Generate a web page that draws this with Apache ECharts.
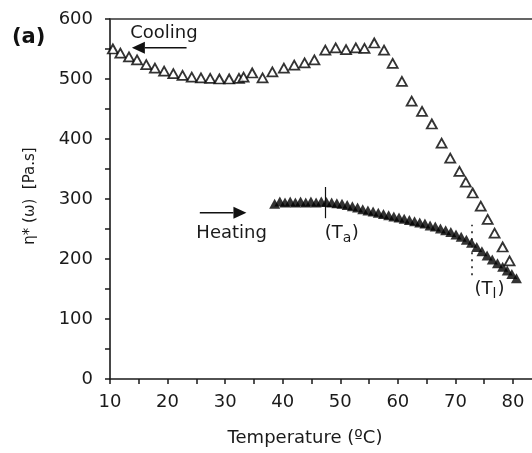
<!DOCTYPE html>
<html>
<head>
<meta charset="utf-8">
<script src="https://cdn.jsdelivr.net/npm/echarts@6/dist/echarts.min.js"></script>
<style>
  html, body { margin: 0; padding: 0; background: #fff; }
  #chart { width: 532px; height: 453px; }
</style>
</head>
<body>
<div id="chart"></div>
<script>
// Complex viscosity vs temperature, cooling and heating runs
const xTickLabels = [10, 20, 30, 40, 50, 60, 70, 80];
const yTickLabels = [0, 100, 200, 300, 400, 500, 600];

const coolingTemp = [10.5, 11.8, 13.3, 14.7, 16.3, 17.8, 19.4, 21.0, 22.6, 24.2, 25.8, 27.4, 29.0, 30.7,
  32.4, 33.2, 34.7, 36.5, 38.2, 40.2, 42.0, 43.8, 45.5, 47.4, 49.2, 51.0, 52.7, 54.2, 55.9, 57.6,
  59.1, 60.7, 62.4, 64.2, 65.9, 67.6, 69.1, 70.7, 71.8, 73.0, 74.4, 75.6, 76.8, 78.2, 79.4];
const coolingEta = [550, 543, 537, 532, 524, 518, 513, 509, 506, 503, 502, 501, 500, 500,
  501, 503, 510, 502, 512, 518, 523, 527, 532, 548, 552, 549, 552, 551, 560, 548,
  526, 496, 463, 446, 425, 393, 368, 346, 328, 310, 288, 266, 243, 220, 197];

const heatingTemp = [38.6, 39.5, 40.4, 41.3, 42.2, 43.1, 44.0, 44.9, 45.8, 46.7, 47.6, 48.5, 49.4,
  50.3, 51.2, 52.1, 53.0, 53.9, 54.8, 55.7, 56.6, 57.5, 58.4, 59.3, 60.2, 61.1, 62.0, 62.9, 63.8,
  64.7, 65.6, 66.5, 67.4, 68.3, 69.2, 70.1, 71.0, 71.9, 72.8, 73.7, 74.6, 75.5, 76.4, 77.3, 78.2,
  79.0, 79.8, 80.6];
const heatingEta = [292, 296, 294, 296, 294, 296, 294, 296, 294, 296, 295, 294, 293,
  292, 290, 288, 286, 283, 281, 279, 277, 275, 273, 271, 269, 267, 265, 263, 261,
  259, 256, 254, 251, 248, 245, 241, 237, 232, 227, 220, 213, 206, 199, 193, 187,
  181, 175, 168];

// transition markers: (Ta) and (Tl)
const taTemp = 47.4, taRange = [268, 320];
const tlTemp = 72.8, tlRange = [173, 257];

// the temperature axis runs off the right edge of the panel
const xMin = 10, xMax = 83.3;

const FONT = '"DejaVu Sans", sans-serif';
const INK = '#1a1a1a';

const chart = echarts.init(document.getElementById('chart'), null, { renderer: 'canvas' });

const zip = (xs, ys) => xs.map((x, i) => [x, ys[i]]);

chart.setOption({
  animation: false,
  backgroundColor: '#fff',
  grid: { left: 110, top: 19, right: 0, bottom: 74, containLabel: false },
  xAxis: [{
    type: 'value', min: xMin, max: xMax, interval: 5,
    axisLine: { show: true, onZero: false, lineStyle: { color: INK, width: 1.6 } },
    axisTick: { show: true, inside: false, length: 5, lineStyle: { color: INK, width: 1.5 } },
    axisLabel: {
      color: INK, fontFamily: FONT, fontSize: 18, margin: 14,
      showMaxLabel: false,
      formatter: v => (xTickLabels.indexOf(v) >= 0 ? String(v) : '')
    },
    splitLine: { show: false }
  }, {
    type: 'value', min: xMin, max: xMax, position: 'top',
    axisLine: { show: true, onZero: false, lineStyle: { color: '#333', width: 1.6 } },
    axisTick: { show: false }, axisLabel: { show: false }, splitLine: { show: false }
  }],
  yAxis: {
    type: 'value', min: 0, max: 600, interval: 50,
    axisLine: { show: true, onZero: false, lineStyle: { color: INK, width: 1.6 } },
    axisTick: { show: true, inside: false, length: 5, lineStyle: { color: INK, width: 1.5 } },
    axisLabel: {
      color: INK, fontFamily: FONT, fontSize: 18, margin: 17,
      formatter: v => (yTickLabels.indexOf(v) >= 0 ? String(v) : '')
    },
    splitLine: { show: false }
  },
  series: [{
    name: 'Cooling', type: 'scatter', data: zip(coolingTemp, coolingEta),
    symbol: 'triangle', symbolSize: [10, 9],
    itemStyle: { color: '#fff', borderColor: '#000', borderWidth: 1.8 },
    z: 3
  }, {
    name: 'Heating', type: 'scatter', data: zip(heatingTemp, heatingEta),
    symbol: 'triangle', symbolSize: [11, 10],
    itemStyle: { color: '#000' },
    z: 4,
    markLine: {
      silent: true, symbol: 'none', animation: false,
      label: { show: false },
      data: [
        [{ coord: [taTemp, taRange[0]], lineStyle: { type: 'solid', color: '#111', width: 1.2 } },
         { coord: [taTemp, taRange[1]] }],
        [{ coord: [tlTemp, tlRange[0]], lineStyle: { type: [2, 5], color: '#111', width: 1.5 } },
         { coord: [tlTemp, tlRange[1]] }]
      ]
    }
  }]
});

// Annotation layer placed from data coordinates
const px = (x, y) => chart.convertToPixel({ gridIndex: 0 }, [x, y]);

function arrow(from, to) {
  const a = px(from[0], from[1]);
  const b = px(to[0], to[1]);
  const dir = Math.sign(b[0] - a[0]);
  const headLen = 13, headHalf = 6;
  return [{
    type: 'line', z: 10,
    shape: { x1: a[0], y1: a[1], x2: b[0] - dir * headLen, y2: b[1] },
    style: { stroke: '#111', lineWidth: 1.5 }
  }, {
    type: 'polygon', z: 10,
    shape: { points: [[b[0], b[1]], [b[0] - dir * headLen, b[1] - headHalf], [b[0] - dir * headLen, b[1] + headHalf]] },
    style: { fill: '#111' }
  }];
}

function label(str, x, y, dx, dy, size) {
  const p = px(x, y);
  return {
    type: 'text', z: 10, x: p[0] + (dx || 0), y: p[1] + (dy || 0),
    style: { text: str, fill: INK, font: (size || 18) + 'px ' + FONT, verticalAlign: 'middle' }
  };
}

// "(T" + subscript + ")" built from a single anchor
function subscripted(sub, x, y) {
  return [
    label('(T', x, y, 0, 0),
    label(sub, x, y, 18, 5, 14),
    label(')', x, y, 18 + (sub === 'l' ? 5 : 9), 0)
  ];
}

const graphics = [
  // panel tag
  { type: 'text', z: 10, left: 12, top: 27, style: { text: '(a)', fill: '#111', font: 'bold 21px ' + FONT } },
  // y axis title
  {
    type: 'text', z: 10, x: 30, y: 196, rotation: Math.PI / 2,
    style: { text: 'η* (ω)  [Pa.s]', fill: INK, font: '15px ' + FONT, align: 'center', verticalAlign: 'middle' }
  },
  // x axis title
  {
    type: 'text', z: 10, x: 305, y: 438,
    style: { text: 'Temperature (ºC)', fill: INK, font: '18px ' + FONT, align: 'center', verticalAlign: 'middle' }
  },
  label('Cooling', 13.5, 576),
  label('Heating', 25.0, 243),
  ...arrow([23.3, 552], [13.8, 552]),
  ...arrow([25.6, 277], [33.7, 277]),
  ...subscripted('a', 47.3, 243),
  ...subscripted('l', 73.3, 149)
];
chart.setOption({ graphic: graphics });
</script>
</body>
</html>
